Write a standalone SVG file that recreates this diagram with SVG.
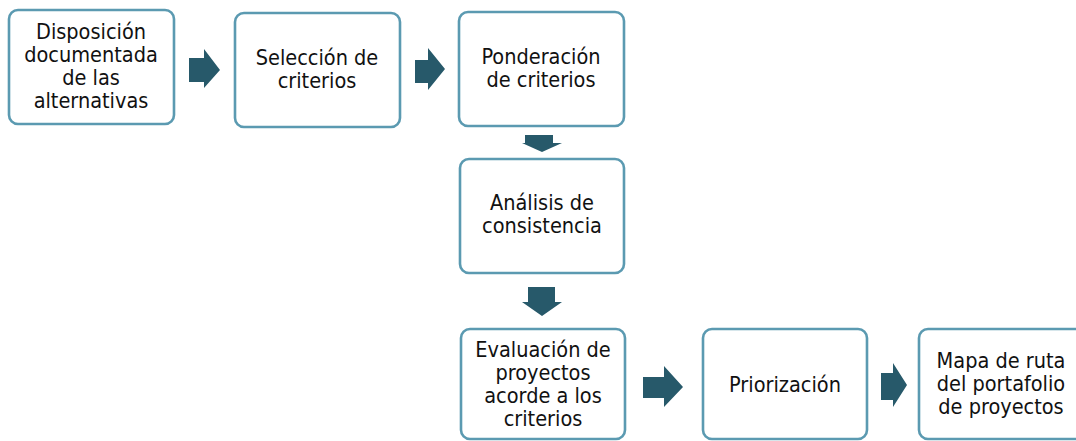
<svg xmlns="http://www.w3.org/2000/svg" width="1076" height="441" viewBox="0 0 1076 441">
<style>
.box{fill:#ffffff;stroke:#5b9ab1;stroke-width:2.6}
.t{font-family:"DejaVu Sans Condensed","DejaVu Sans",Verdana,sans-serif;font-size:21.5px;fill:#111111;text-anchor:middle}
.ar{fill:#27596a}
</style>
<rect width="1076" height="441" fill="#ffffff"/>
<g id="connectors">
<polygon class="ar" points="189,58 204,58 204,49 220,70 204,88 204,82 189,82"/>
<polygon class="ar" points="415,60 428,60 428,48 445,69 428,90 428,83 415,83"/>
<polygon class="ar" points="525,135 553,135 553,143 562,143 542,152 522,143 525,143"/>
<polygon class="ar" points="528,287 555,287 555,302 562,302 542,316 522,302 528,302"/>
<polygon class="ar" points="643,377 664,377 664,366 683,387 664,407 664,398 643,398"/>
<polygon class="ar" points="881,373 893,373 893,363 907,385 893,407 893,400 881,400"/>
</g>
<g id="n1"><rect class="box" x="9" y="10" width="165" height="114" rx="9"/>
<text class="t" x="91" y="39">Disposición</text><text class="t" x="91" y="62">documentada</text><text class="t" x="91" y="85">de las</text><text class="t" x="91" y="108">alternativas</text></g>
<g id="n2"><rect class="box" x="235" y="13" width="165" height="114" rx="9"/>
<text class="t" x="317" y="65">Selección de</text><text class="t" x="317" y="88">criterios</text></g>
<g id="n3"><rect class="box" x="459" y="12" width="165" height="114" rx="9"/>
<text class="t" x="541" y="64">Ponderación</text><text class="t" x="541" y="87">de criterios</text></g>
<g id="n4"><rect class="box" x="460" y="159" width="164" height="114" rx="9"/>
<text class="t" x="542" y="210">Análisis de</text><text class="t" x="542" y="233">consistencia</text></g>
<g id="n5"><rect class="box" x="461" y="329" width="164" height="110" rx="9"/>
<text class="t" x="543" y="357">Evaluación de</text><text class="t" x="543" y="380">proyectos</text><text class="t" x="543" y="403">acorde a los</text><text class="t" x="543" y="426">criterios</text></g>
<g id="n6"><rect class="box" x="703" y="329" width="164" height="110" rx="9"/>
<text class="t" x="785" y="392">Priorización</text></g>
<g id="n7"><rect class="box" x="919" y="329" width="170" height="110" rx="9"/>
<text class="t" x="1001" y="368">Mapa de ruta</text><text class="t" x="1001" y="391">del portafolio</text><text class="t" x="1001" y="414">de proyectos</text></g>
</svg>
